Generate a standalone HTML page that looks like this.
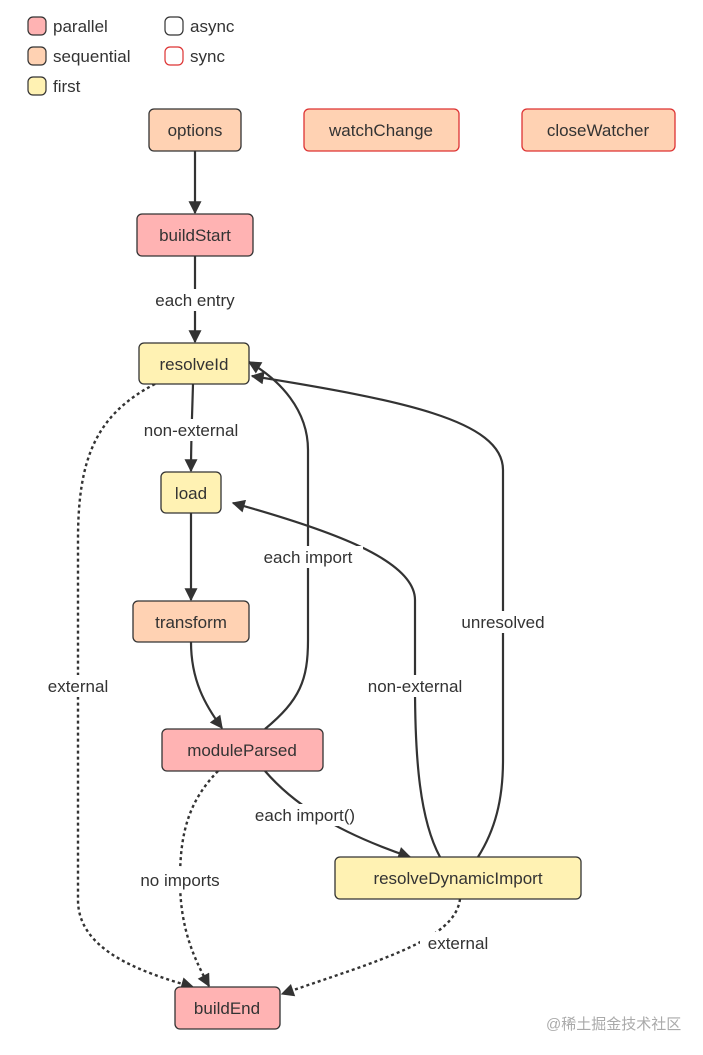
<!DOCTYPE html>
<html><head><meta charset="utf-8"><style>
body{margin:0;background:#fff;width:703px;height:1055px;overflow:hidden}
svg{display:block;font-family:"Liberation Sans","DejaVu Sans",sans-serif}
text{font-size:17px;fill:#333}
</style></head><body>
<svg width="703" height="1055" viewBox="0 0 703 1055" xmlns="http://www.w3.org/2000/svg">
<defs>
<marker id="a" viewBox="0 0 10 10" refX="9" refY="5" markerWidth="15" markerHeight="13" orient="auto-start-reverse" markerUnits="userSpaceOnUse"><path d="M0,0L10,5L0,10z" fill="#333"/></marker>
</defs>
<!-- legend -->
<rect x="28" y="17" width="18" height="18" rx="5" fill="#ffb3b3" stroke="#333" stroke-width="1.2"/>
<text x="53" y="32">parallel</text>
<rect x="28" y="47" width="18" height="18" rx="5" fill="#ffd2b3" stroke="#333" stroke-width="1.2"/>
<text x="53" y="62">sequential</text>
<rect x="28" y="77" width="18" height="18" rx="5" fill="#fff2b3" stroke="#333" stroke-width="1.2"/>
<text x="53" y="92">first</text>
<rect x="165" y="17" width="18" height="18" rx="5" fill="#fff" stroke="#333" stroke-width="1.2"/>
<text x="190" y="32">async</text>
<rect x="165" y="47" width="18" height="18" rx="5" fill="#fff" stroke="#d33" stroke-width="1.2"/>
<text x="190" y="62">sync</text>

<!-- edges -->
<g fill="none" stroke="#333" stroke-width="2.2">
<path d="M195,151L195,213" marker-end="url(#a)"/>
<path d="M195,256L195,342" marker-end="url(#a)"/>
<path d="M193,384C192,420 191,440 191,471" marker-end="url(#a)"/>
<path d="M191,513L191,600" marker-end="url(#a)"/>
<path d="M191,642C191,680 205,705 222,728" marker-end="url(#a)"/>
<path d="M265,729C300,700 308,680 308,640L308,450C308,410 280,380 249,362" marker-end="url(#a)"/>
<path d="M440,857C420,820 415,760 415,686L415,600C415,560 330,530 233,503" marker-end="url(#a)"/>
<path d="M478,857C495,830 503,800 503,760L503,470C503,420 400,400 252,376" marker-end="url(#a)"/>
<path d="M265,771C290,800 330,830 410,857" marker-end="url(#a)"/>
<g stroke-dasharray="3,3" stroke-width="2.4">
<path d="M155,384C95,415 78,460 78,540L78,900C78,950 140,972 193,987" marker-end="url(#a)"/>
<path d="M218,771C190,800 180,830 180,880C180,930 195,960 209,986" marker-end="url(#a)"/>
<path d="M460,899C455,940 380,960 282,994" marker-end="url(#a)"/>
</g>
</g>

<!-- edge labels -->
<g text-anchor="middle">
<rect x="145" y="289" width="100" height="22" fill="#fff"/><text x="195" y="306">each entry</text>
<rect x="133" y="419" width="116" height="22" fill="#fff"/><text x="191" y="436">non-external</text>
<rect x="253" y="546" width="110" height="22" fill="#fff"/><text x="308" y="563">each import</text>
<rect x="40" y="675" width="77" height="22" fill="#fff"/><text x="78" y="692">external</text>
<rect x="357" y="675" width="116" height="22" fill="#fff"/><text x="415" y="692">non-external</text>
<rect x="455" y="611" width="97" height="22" fill="#fff"/><text x="503" y="628">unresolved</text>
<rect x="244" y="804" width="123" height="22" fill="#fff"/><text x="305" y="821">each import()</text>
<rect x="131" y="869" width="98" height="22" fill="#fff"/><text x="180" y="886">no imports</text>
<rect x="420" y="932" width="77" height="22" fill="#fff"/><text x="458" y="949">external</text>
</g>

<!-- nodes -->
<g stroke-width="1.3">
<rect x="149" y="109" width="92" height="42" rx="5" fill="#ffd2b3" stroke="#333"/>
<rect x="304" y="109" width="155" height="42" rx="5" fill="#ffd2b3" stroke="#d33"/>
<rect x="522" y="109" width="153" height="42" rx="5" fill="#ffd2b3" stroke="#d33"/>
<rect x="137" y="214" width="116" height="42" rx="5" fill="#ffb3b3" stroke="#333"/>
<rect x="139" y="343" width="110" height="41" rx="5" fill="#fff2b3" stroke="#333"/>
<rect x="161" y="472" width="60" height="41" rx="5" fill="#fff2b3" stroke="#333"/>
<rect x="133" y="601" width="116" height="41" rx="5" fill="#ffd2b3" stroke="#333"/>
<rect x="162" y="729" width="161" height="42" rx="5" fill="#ffb3b3" stroke="#333"/>
<rect x="335" y="857" width="246" height="42" rx="5" fill="#fff2b3" stroke="#333"/>
<rect x="175" y="987" width="105" height="42" rx="5" fill="#ffb3b3" stroke="#333"/>
</g>
<g text-anchor="middle">
<text x="195" y="136">options</text>
<text x="381" y="136">watchChange</text>
<text x="598" y="136">closeWatcher</text>
<text x="195" y="241">buildStart</text>
<text x="194" y="370">resolveId</text>
<text x="191" y="499">load</text>
<text x="191" y="628">transform</text>
<text x="242" y="756">moduleParsed</text>
<text x="458" y="884">resolveDynamicImport</text>
<text x="227" y="1014">buildEnd</text>
</g>
<text x="546" y="1029" style="font-size:15px;fill:#aaa;font-family:'Liberation Sans','Noto Sans CJK SC',sans-serif">@稀土掘金技术社区</text>
</svg>
</body></html>
